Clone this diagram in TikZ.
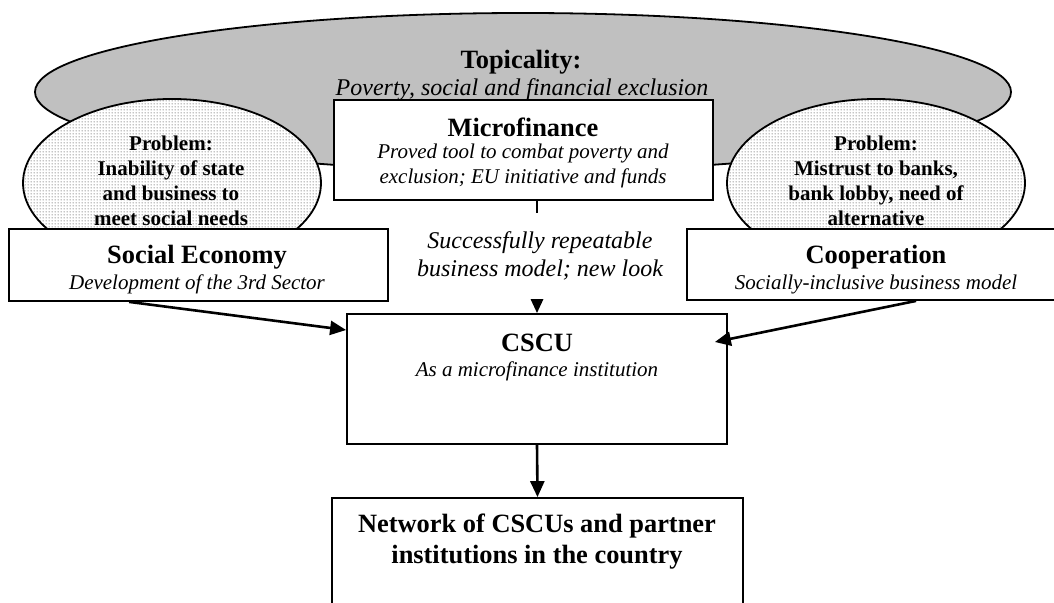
\documentclass[tikz,border=0pt]{standalone}
\usepackage{fontspec}
\setmainfont{Liberation Serif}
\usetikzlibrary{shapes.geometric,arrows.meta,fit,patterns.meta}

\definecolor{ovalgray}{RGB}{192,192,192}
\definecolor{dotgray}{RGB}{140,140,140}

\tikzdeclarepattern{
  name=finedots,
  type=uncolored,
  bounding box={(0pt,0pt) and (1.5pt,1.5pt)},
  tile size={(1.5pt,1.5pt)},
  code={\fill (0.75pt,0.75pt) circle (0.48pt);}
}

\begin{document}
\begin{tikzpicture}[x=0.5pt, y=-0.5pt,
    box/.style={draw, line width=0.9pt, fill=white, inner sep=0pt},
    bigoval/.style={ellipse, draw, line width=0.9pt, fill=ovalgray, inner sep=0pt},
    problem/.style={ellipse, draw, line width=0.9pt, inner sep=0pt,
        preaction={fill=white}, pattern=finedots, pattern color=dotgray},
    title/.style={font=\bfseries\fontsize{13.2}{15.5}\selectfont, align=center, inner sep=0pt},
    note/.style={font=\itshape\fontsize{10.5}{12.5}\selectfont, align=center, inner sep=0pt},
    bignote/.style={font=\itshape\fontsize{12}{14}\selectfont, align=center, inner sep=0pt},
    probtext/.style={font=\bfseries\fontsize{10.5}{12.5}\selectfont, align=center, inner sep=0pt},
    link/.style={line width=1.3pt, -{Triangle[length=8pt,width=7pt]}}]
            \useasboundingbox (0,0) rectangle (1054,603);

            \node[bigoval, minimum width=488pt, minimum height=79pt] (topic) at (523,92) {};
            \node[title] (topictitle) at (521,62) {Topicality:};
            \node[bignote] (topicnote) at (522,90) {Poverty, social and financial exclusion};

            \node[problem, minimum width=149pt, minimum height=84pt] (probstate) at (172,183) {};
            \node[problem, minimum width=149pt, minimum height=84pt] (probbank) at (876,183) {};
            \node[probtext] (probstatetext) at (171,180.5)
                {Problem:\\Inability of state\\and business to\\meet social needs};
            \node[probtext] (probbanktext) at (876,180.5)
                {Problem:\\Mistrust to banks,\\bank lobby, need of\\alternative};

            \node[box, fit={(334,100) (713,200)}] (micro) {};
            \node[box, fit={(9,229) (388,301)}] (soc) {};
            \node[box, fit={(687,229) (1066,300)}] (coop) {};
            \node[box, fit={(347,314) (727,444)}] (cscu) {};
            \node[box, fit={(332,498) (743,630)}] (net) {};

            \node[title] (microtitle) at (523,127) {Microfinance};
            \node[note] (micronote) at (523,165.5)
                {Proved tool to combat poverty and\\exclusion; EU initiative and funds};
            \node[title] (soctitle) at (197,257) {Social Economy};
            \node[note] (socnote) at (197,284) {Development of the 3rd Sector};
            \node[title] (cooptitle) at (876,257) {Cooperation};
            \node[note] (coopnote) at (876,284) {Socially-inclusive business model};
            \node[title] (cscutitle) at (537,343) {CSCU};
            \node[note] (cscunote) at (537,371) {As a microfinance institution};
            \node[title] (nettitle) at (537,541.5)
                {Network of CSCUs and partner\\institutions in the country};

            \draw[link] ([xshift=60.5pt]soc.south west) -- ([yshift=24.5pt]cscu.west);
            \draw[link] ([xshift=115pt]coop.south west) -- ([xshift=-6.5pt, yshift=18.5pt]cscu.east);
            \draw[link] (cscu.north |- micro.south) -- (cscu.north);
            \draw[link] (cscu.south) -- (net.north);

            \node[bignote, fill=white, minimum height=43pt] (modelnote) at (540,256)
                {Successfully repeatable\\business model; new look};
\end{tikzpicture}
\end{document}
